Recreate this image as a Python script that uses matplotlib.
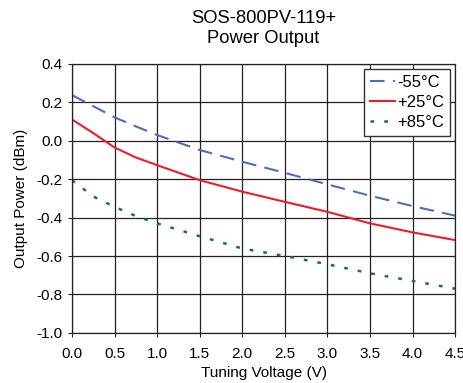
import matplotlib
matplotlib.use("Agg")
import matplotlib.pyplot as plt

plt.rcParams['font.family'] = ['Liberation Sans', 'DejaVu Sans']

# tuning voltage (V)
volt = [0.0, 0.25, 0.5, 0.75, 1.0, 1.5, 2.0, 2.5, 3.0, 3.5, 4.0, 4.5]
# output power (dBm) per temperature
p_m55 = [0.238, 0.18, 0.122, 0.075, 0.03, -0.048, -0.109, -0.167, -0.227, -0.286, -0.34, -0.39]
p_25 = [0.111, 0.04, -0.035, -0.087, -0.127, -0.205, -0.265, -0.318, -0.37, -0.43, -0.477, -0.517]
p_85 = [-0.205, -0.29, -0.344, -0.392, -0.43, -0.497, -0.561, -0.6, -0.643, -0.69, -0.73, -0.77]

labels = ['-55°C', '+25°C', '+85°C']

fig = plt.figure(figsize=(4.63, 3.83), dpi=100)
ax = fig.add_axes([0.1555, 0.131, 0.8275, 0.702])

ax.plot(volt, p_m55, color='#4a6fc0', lw=1.5, dashes=(7, 4), label=labels[0])
ax.plot(volt, p_25, color='#f01c24', lw=1.5, label=labels[1])
ax.plot(volt, p_85, color='#0f7a3c', lw=1.8, dashes=(1.5, 4), label=labels[2])

ax.set_xlim(0, 4.5)
ax.set_ylim(-1.0, 0.4)
ax.set_xticks([0.0, 0.5, 1.0, 1.5, 2.0, 2.5, 3.0, 3.5, 4.0, 4.5])
ax.set_yticks([-1.0, -0.8, -0.6, -0.4, -0.2, 0.0, 0.2, 0.4])
ax.set_xticklabels(['%.1f' % v for v in ax.get_xticks()])
ax.set_yticklabels(['%.1f' % v for v in ax.get_yticks()])
ax.grid(True, color='#222222', lw=0.9)
ax.tick_params(labelsize=11, length=3, color='#222222')
ax.tick_params(axis='x', pad=7)
ax.tick_params(axis='y', pad=4)
for s in ax.spines.values():
    s.set_color('#222222')
    s.set_linewidth(0.9)

ax.set_xlabel('Tuning Voltage (V)', fontsize=11, labelpad=4)
ax.set_ylabel('Output Power (dBm)', fontsize=11, labelpad=6)
ax.set_title('SOS-800PV-119+\nPower Output', fontsize=13.2, pad=15, linespacing=1.25)

leg = ax.legend(loc='upper right', fontsize=12, frameon=True, fancybox=False,
                edgecolor='#333333', framealpha=1, handlelength=1.5,
                handletextpad=0.15, borderpad=0.35, labelspacing=0.3,
                borderaxespad=0.3)
leg.get_frame().set_linewidth(1.0)

fig.savefig('out.png', dpi=100)
